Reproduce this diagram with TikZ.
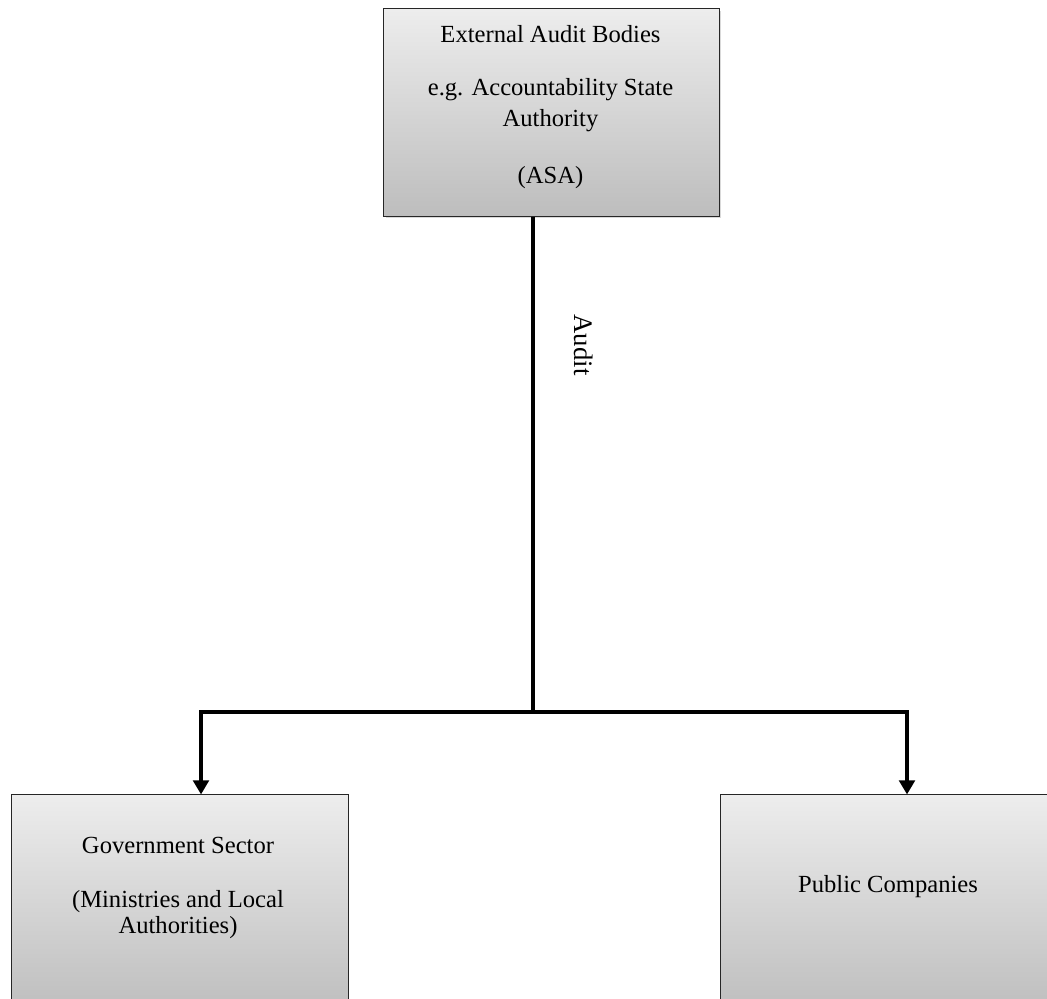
\documentclass[tikz,border=0pt]{standalone}
\usepackage{fontspec}
\setmainfont{Liberation Serif}
\usetikzlibrary{
  arrows.meta,
  positioning,
  shadows
}
\definecolor{boxtop}{RGB}{237,237,237}
\definecolor{boxbot}{RGB}{189,189,189}

\begin{document}
\begin{tikzpicture}[
  x=0.025cm, y=-0.025cm,
  block/.style={draw=black!85, line width=0.7pt, top color=boxtop,
                bottom color=boxbot, inner sep=0pt},
  lbl/.style={align=center, font=\fontsize{17.5}{22}\selectfont},
  link/.style={line width=2.8pt},
  arr/.style={link, -{Triangle[width=11pt, length=10pt]}}
]
\useasboundingbox (0,0) rectangle (1047,999);

\node[block, minimum width=8.375cm, minimum height=5.175cm,
      drop shadow={shadow xshift=1.2pt, shadow yshift=-1.2pt, opacity=0.3}] (asa) at (551.5,112.5) {};
\node[lbl] (asatxt) at (550.5,107)
  {External Audit Bodies\\[15.7pt] e.g. Accountability State\\ Authority\\[18pt] (ASA)};

\node[block, minimum width=8.4cm, minimum height=5.5cm] (gov) at (180,905) {};
\node[lbl] (govtxt) at (178,888) {Government Sector\\[17pt] (Ministries and Local\\[-3.5pt] Authorities)};

\node[block, minimum width=8.2cm, minimum height=5.5cm] (pub) at (885,905) {};
\node[lbl] (pubtxt) at (888,887) {Public Companies};

\coordinate (junc) at (533,712);
\draw[link] (asa.south -| junc) -- (junc);
\draw[arr] (junc) -| ([xshift=0.525cm]gov.north);
\draw[arr] (junc) -| ([xshift=0.55cm]pub.north);

\node[font=\fontsize{19}{22}\selectfont, rotate=-90] (audit) at (584,345) {Audit};

\end{tikzpicture}
\end{document}
